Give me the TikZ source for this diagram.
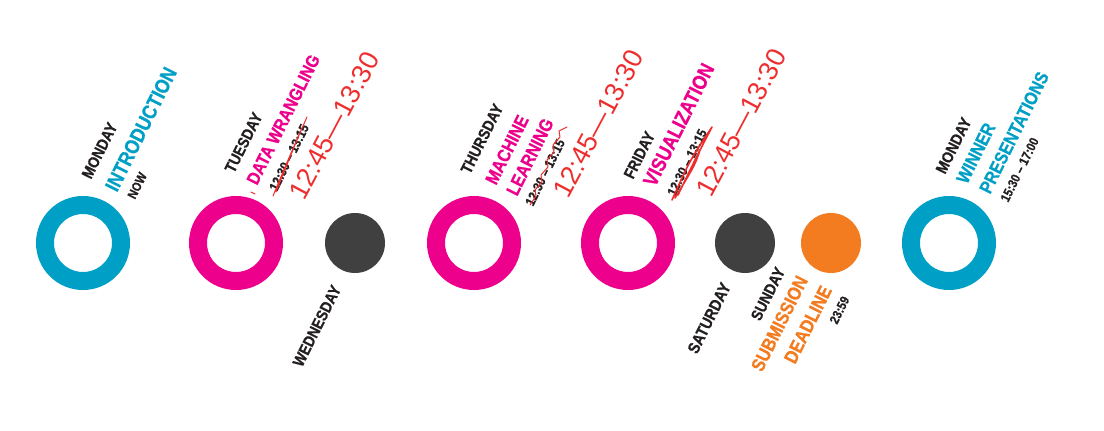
\documentclass[tikz,border=0pt]{standalone}
\usepackage{fontspec}
\usepackage{xcolor}
\newfontfamily\cond[FakeStretch=0.86,FakeBold=0.8]{Liberation Sans Bold}
\newfontfamily\hand{Liberation Sans}
\definecolor{cyanc}{HTML}{00A0C6}
\definecolor{pinkc}{HTML}{EC008C}
\definecolor{orangec}{HTML}{F37B20}
\definecolor{darkdot}{HTML}{404040}
\definecolor{ink}{HTML}{231F20}
\definecolor{redpen}{HTML}{EE2E2E}

\begin{document}
\begin{tikzpicture}[x=1pt,y=-1pt,
  ring/.style={circle,draw,line width=18pt,minimum size=76pt,inner sep=0pt},
  dot/.style={circle,fill,minimum size=60pt,inner sep=0pt},
  lbl/.style={rotate=63.5,anchor=base west,inner sep=0pt},
  lsize/.style={font=\cond\fontsize{#1}{#1}\selectfont},
  pen/.style={rotate=62,anchor=base west,inner sep=0pt,text=redpen,
    font=\hand\fontsize{27}{27}\selectfont},
  strike/.style={redpen,line width=1pt,line cap=round,line join=round}]
  \useasboundingbox (0,0) rectangle (1104,431);
  % Days on the line
  \foreach \n/\x/\c in {mon/83/cyanc,tue/236/pinkc,thu/474/pinkc,fri/628/pinkc,win/949/cyanc}
    \node[ring,draw=\c] (\n) at (\x,243) {};
  \foreach \n/\x/\c in {wed/355/darkdot,sat/745/darkdot,sun/831/orangec}
    \node[dot,fill=\c] (\n) at (\x,243) {};
  % Labels above the rings
  \foreach \n/\x/\y/\s/\c/\t in {
      monday/91/180/16/ink/MONDAY, intro/117/193/20.5/cyanc/INTRODUCTION, now/135/200/13/ink/NOW,
      tuesday/234/174/16/ink/TUESDAY, wrangle/257/186/18/pinkc/DATA WRANGLING,
      tuetime/277/192/13.5/ink/12:30 – 13:15,
      thursday/470/175/16/ink/THURSDAY, machine/496/186/18.5/pinkc/MACHINE,
      learning/517/197/18.5/pinkc/LEARNING, thutime/533/207/13.5/ink/12:30 – 13:15,
      friday/633/180/16/ink/FRIDAY, visual/655/188/20.5/pinkc/VISUALIZATION,
      fritime/675/197/13.5/ink/12:30 – 13:15,
      monday2/945/175/16/ink/MONDAY, winner/967/185/18.5/cyanc/WINNER,
      present/990/195/18.5/cyanc/PRESENTATIONS, wintime/1008/203/13/ink/15:30 – 17:00}
    \node[lbl,lsize=\s,text=\c] (\n) at (\x,\y) {\t};
  % Labels below the dots
  \foreach \n/\x/\y/\s/\c/\t in {
      wednesday/302/368/16/ink/WEDNESDAY, saturday/697/355/16.5/ink/SATURDAY,
      sunday/760/322/16/ink/SUNDAY, submit/762/373/19/orangec/SUBMISSION,
      deadline/795/365/19/orangec/DEADLINE, duetime/837/325/13/ink/23:59}
    \node[lbl,lsize=\s,text=\c] (\n) at (\x,\y) {\t};
  % Hand-written corrections
  \foreach \n/\x/\y in {tuenew/304/202,thunew/568/200,frinew/711/199}
    \node[pen] (\n) at (\x,\y) {12:45—13:30};
  \draw[strike] (251,192) -- (255,194);
  \draw[strike] (273,196) .. controls (290,155) .. (307,117)
    .. controls (296,142) .. (276,192);
  \draw[strike] (530,205) -- (536,196) -- (535,190) -- (542,182) -- (541,175) -- (548,167)
    -- (547,160) -- (554,152) -- (553,145) -- (560,137) -- (559,131) -- (567,127);
  \draw[strike,line width=1.6pt] (672,200) .. controls (690,160) .. (712,127)
    .. controls (700,150) .. (678,195) .. controls (690,170) .. (700,150)
    .. controls (695,165) .. (675,198);
\end{tikzpicture}
\end{document}
